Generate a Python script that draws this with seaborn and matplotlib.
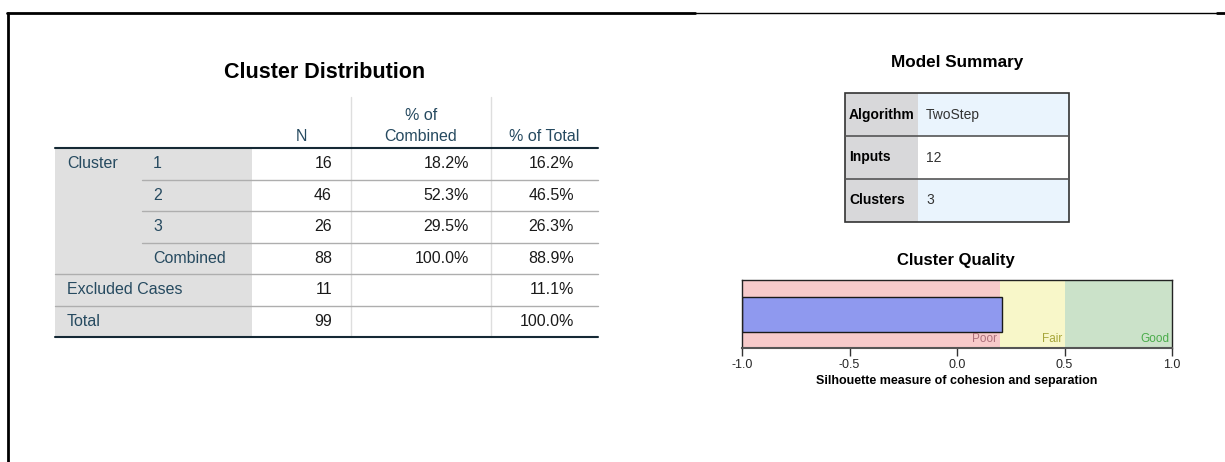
import numpy as np
import seaborn as sns
import matplotlib.pyplot as plt
from matplotlib.patches import Rectangle

# --- data -------------------------------------------------------------
dist_title = "Cluster Distribution"
dist_columns = ["N", "% of\nCombined", "% of Total"]
row_group = ["Cluster", "", "", "", "Excluded Cases", "Total"]
row_sub = ["1", "2", "3", "Combined", "", ""]
n_values = [16, 46, 26, 88, 11, 99]
pct_combined = [18.2, 52.3, 29.5, 100.0, None, None]
pct_total = [16.2, 46.5, 26.3, 88.9, 11.1, 100.0]

summary_title = "Model Summary"
summary_labels = ["Algorithm", "Inputs", "Clusters"]
summary_values = ["TwoStep", "12", "3"]

quality_title = "Cluster Quality"
quality_xlabel = "Silhouette measure of cohesion and separation"
silhouette = 0.21
band_names = ["Poor", "Fair", "Good"]
band_edges = [-1.0, 0.2, 0.5, 1.0]
quality_ticks = [-1.0, -0.5, 0.0, 0.5, 1.0]

# --- style ------------------------------------------------------------
sns.set_theme(style="white")
plt.rcParams["font.family"] = ["Liberation Sans", "DejaVu Sans"]

W, H = 1225, 462
fig = plt.figure(figsize=(W / 100, H / 100), dpi=100)
page = fig.add_axes([0, 0, 1, 1])
page.set_xlim(0, W)
page.set_ylim(H, 0)
page.axis("off")

label_col = "#264a60"
data_col = "#1a1a1a"

# page frame
page.plot([7, 695], [13, 13], color="black", lw=2)
page.plot([695, 1217], [12.5, 12.5], color="black", lw=1)
page.plot([1217, 1225], [13, 13], color="black", lw=2)
page.plot([8, 8], [13, H], color="black", lw=2)

# --- cluster distribution table ----------------------------------------
page.text(325, 72, dist_title, ha="center", va="center", fontsize=15.5,
          fontweight="bold", color="black")

left, sub_x, gray_r, right = 55, 142, 252, 598
col_edges = [252, 351, 491, 598]
head_top, head_bot = 97, 148
row_h = 31.5
n_rows = len(n_values)
bottom = head_bot + row_h * n_rows

page.add_patch(Rectangle((left, head_bot), gray_r - left, bottom - head_bot,
                         color="#e0e0e0", lw=0))
for x in col_edges[1:-1]:
    page.plot([x, x], [head_top, bottom], color="#dedede", lw=1)

for j, lab in enumerate(dist_columns):
    cx = (col_edges[j] + col_edges[j + 1]) / 2
    lines = lab.split("\n")
    for k, ln in enumerate(reversed(lines)):
        page.text(cx, 141 - k * 21, ln, ha="center", va="baseline",
                  fontsize=11.5, color=label_col)

page.plot([left, right], [head_bot, head_bot], color="#152935", lw=1.5)
page.plot([left, right], [bottom, bottom], color="#152935", lw=1.5)

right_edges = [332, 469, 574]
for i in range(n_rows):
    cy = head_bot + row_h * (i + 0.5)
    if row_group[i]:
        page.text(67, cy, row_group[i], ha="left", va="center",
                  fontsize=11.5, color=label_col)
    if row_sub[i]:
        page.text(153, cy, row_sub[i], ha="left", va="center",
                  fontsize=11.5, color=label_col)
    vals = [str(n_values[i]),
            "" if pct_combined[i] is None else f"{pct_combined[i]:.1f}%",
            f"{pct_total[i]:.1f}%"]
    for xr, v in zip(right_edges, vals):
        page.text(xr, cy, v, ha="right", va="center", fontsize=11.5,
                  color=data_col)
    if i < n_rows - 1:
        y = head_bot + row_h * (i + 1)
        x0 = sub_x if row_sub[i + 1] else left
        page.plot([x0, right], [y, y], color="#aeaeae", lw=1)

# --- model summary ----------------------------------------------------
page.text(957, 63, summary_title, ha="center", va="center", fontsize=12.3,
          fontweight="bold", color="black")
bx0, bx1, bxm = 845, 1069, 918
by0, srow = 93, 43
for i, (lab, val) in enumerate(zip(summary_labels, summary_values)):
    y0 = by0 + srow * i
    page.add_patch(Rectangle((bx0, y0), bxm - bx0, srow, color="#d8d8da", lw=0))
    page.add_patch(Rectangle((bxm, y0), bx1 - bxm, srow,
                             color="#eaf4fd" if i % 2 == 0 else "white", lw=0))
    page.text(849, y0 + srow / 2, lab, ha="left", va="center", fontsize=10,
              fontweight="bold", color="black")
    page.text(926, y0 + srow / 2, val, ha="left", va="center", fontsize=10,
              color="#333333")
    if i > 0:
        page.plot([bx0, bx1], [y0, y0], color="#555555", lw=1.2)
page.add_patch(Rectangle((bx0, by0), bx1 - bx0, srow * len(summary_labels),
                         fill=False, ec="#333333", lw=1.2))

# --- cluster quality chart -------------------------------------------
page.text(956, 260, quality_title, ha="center", va="center", fontsize=12,
          fontweight="bold", color="black")

ax = fig.add_axes([742 / W, 1 - 348 / H, 430 / W, 68 / H])
band_fill = ["#f7caca", "#f8f7c9", "#cbe2c9"]
band_text = ["#ad6f7b", "#a6a63a", "#4aac4a"]
for k, name in enumerate(band_names):
    ax.axvspan(band_edges[k], band_edges[k + 1], color=band_fill[k], lw=0)
    ax.text(band_edges[k + 1] - 0.012, 0.13, name, ha="right", va="center",
            fontsize=8.5, color=band_text[k])
ax.barh(0.49, silhouette - band_edges[0], height=0.515, left=band_edges[0],
        color="#8f99ef", edgecolor="#1a1a1a", lw=1)
ax.set_xlim(band_edges[0], band_edges[-1])
ax.set_ylim(0, 1)
ax.set_yticks([])
ax.set_xticks(quality_ticks)
ax.set_xticklabels([f"{t:.1f}" for t in quality_ticks])
ax.tick_params(axis="x", direction="out", length=5.5, width=1, color="#333333",
               labelsize=9, pad=2.5, bottom=True)
for s in ax.spines.values():
    s.set_color("#222222")
    s.set_linewidth(1)
ax.spines["bottom"].set_color("#555555")
ax.spines["bottom"].set_linewidth(1.5)
ax.set_xlabel(quality_xlabel, fontsize=9, fontweight="bold", labelpad=3,
              color="black")

fig.savefig("out.png", dpi=100)
